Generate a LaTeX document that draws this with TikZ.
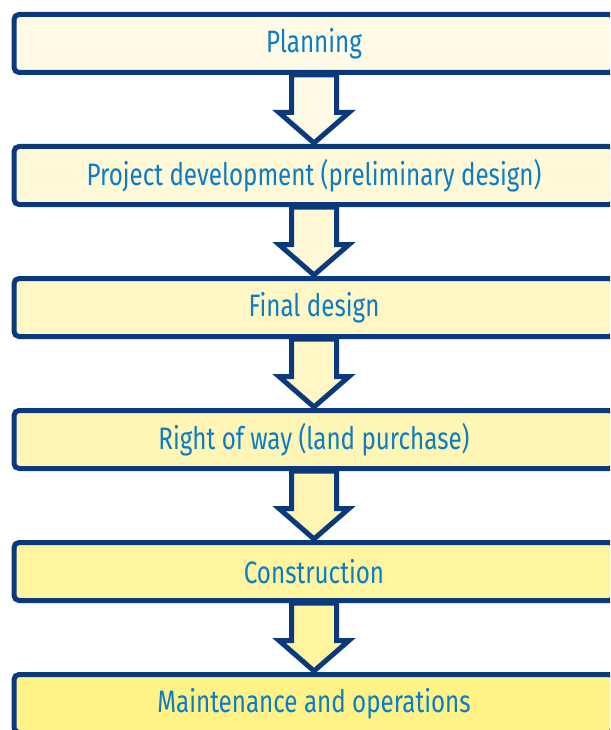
\documentclass[tikz,border=0pt]{standalone}
\usepackage{fontspec}
\setmainfont[FakeStretch=0.78]{Fira Sans}
\usetikzlibrary{calc,backgrounds}

\definecolor{navy}{HTML}{0B3A7C}
\definecolor{txtblue}{HTML}{0A7DC6}
\definecolor{fill1}{HTML}{FFFBE6}
\definecolor{fill2}{HTML}{FFF9D8}
\definecolor{fill3}{HTML}{FFF7C6}
\definecolor{fill4}{HTML}{FFF5B4}
\definecolor{fill5}{HTML}{FFF4A0}
\definecolor{fill6}{HTML}{FFF388}

\tikzset{
  stage/.style={draw=navy, line width=5pt, rounded corners=5pt,
    minimum width=600pt, minimum height=58pt, inner sep=0pt,
    text=txtblue, font=\fontsize{31}{34}\selectfont},
  flowarrow/.style={draw=navy, line width=5pt, line join=miter}
}

\begin{document}
\begin{tikzpicture}[x=1pt,y=-1pt]
  \useasboundingbox (0,0) rectangle (610,730);
  \clip (0,0) rectangle (610,730);
  % the six stages
  \foreach \lbl [count=\i] in {Planning,Project development (preliminary design),Final design,Right of way (land purchase),Construction,Maintenance and operations}
    \node[stage, fill=fill\i] (s\i) at (314,{43.5+(\i-1)*132}) {\lbl};
  % hollow arrows between the stages
  \begin{scope}[on background layer]
    \foreach \i [evaluate=\i as \j using int(\i+1)] in {1,...,5}
      \draw[flowarrow, fill=fill\i] ($(s\i.south)+(-22.5,0)$) -- ++(0,37.5) -- ++(-12.5,0)
        -- ($(s\j.north)+(0,-1)$) -- ($(s\i.south)+(35,37.5)$) -- ++(-12.5,0)
        -- ($(s\i.south)+(22.5,0)$) -- cycle;
  \end{scope}
\end{tikzpicture}
\end{document}
